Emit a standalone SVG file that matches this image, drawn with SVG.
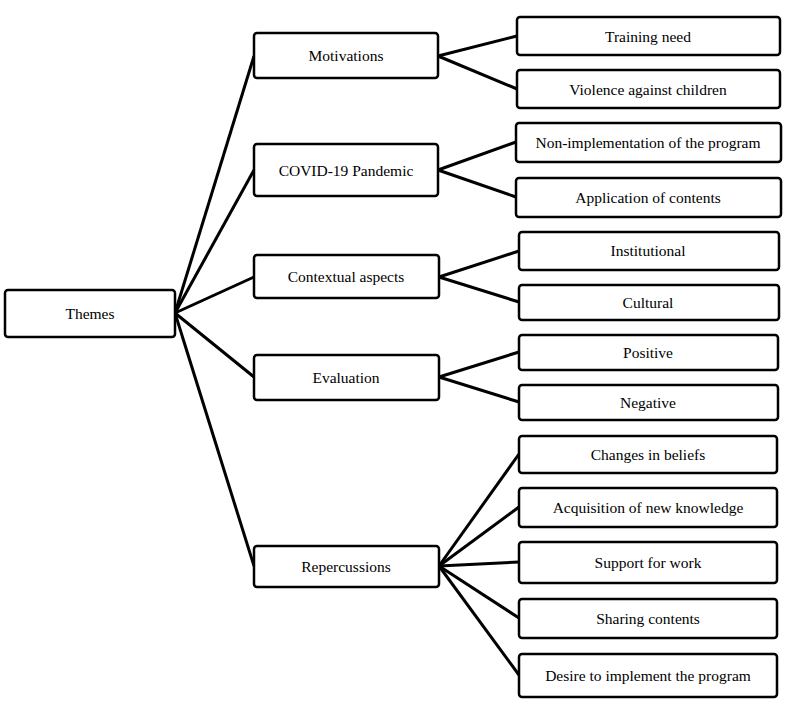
<svg xmlns="http://www.w3.org/2000/svg" width="788" height="710" viewBox="0 0 788 710">
<style>
rect{fill:#fff;stroke:#000;stroke-width:2.5}
text{font-family:"Liberation Serif",serif;font-size:15.5px;text-anchor:middle;dominant-baseline:central;fill:#000}
#connectors line{stroke:#000;stroke-width:3}
</style>
<rect x="0" y="0" width="788" height="710" style="stroke:none"/>
<g id="connectors">
<line x1="175" y1="313" x2="254" y2="56"/><line x1="175" y1="313" x2="254" y2="170"/><line x1="175" y1="313" x2="254" y2="277"/><line x1="175" y1="313" x2="254" y2="377"/><line x1="175" y1="313" x2="254" y2="566"/>
<line x1="438" y1="56" x2="517" y2="36"/><line x1="438" y1="56" x2="517" y2="89"/>
<line x1="438" y1="170" x2="516" y2="142"/><line x1="438" y1="170" x2="516" y2="197"/>
<line x1="439" y1="277" x2="519" y2="251"/><line x1="439" y1="277" x2="519" y2="302"/>
<line x1="439" y1="377" x2="519" y2="352"/><line x1="439" y1="377" x2="519" y2="402"/>
<line x1="439" y1="566" x2="519" y2="454"/><line x1="439" y1="566" x2="519" y2="507"/><line x1="439" y1="566" x2="519" y2="562"/><line x1="439" y1="566" x2="519" y2="618"/><line x1="439" y1="566" x2="519" y2="675"/>
</g>
<g id="themes"><rect x="5" y="290" width="170" height="47" rx="3"/><text x="90" y="313">Themes</text></g>
<g id="motivations"><rect x="254" y="33" width="184" height="45" rx="3"/><text x="346" y="55">Motivations</text></g>
<g id="covid"><rect x="254" y="144" width="184" height="52" rx="3"/><text x="346" y="170">COVID-19 Pandemic</text></g>
<g id="contextual"><rect x="254" y="255" width="185" height="43" rx="3"/><text x="346" y="276">Contextual aspects</text></g>
<g id="evaluation"><rect x="254" y="355" width="185" height="45" rx="3"/><text x="346" y="377">Evaluation</text></g>
<g id="repercussions"><rect x="254" y="546" width="185" height="41" rx="3"/><text x="346" y="566">Repercussions</text></g>
<g id="training"><rect x="517" y="17" width="263" height="38" rx="3"/><text x="648" y="36">Training need</text></g>
<g id="violence"><rect x="517" y="70" width="263" height="38" rx="3"/><text x="648" y="89">Violence against children</text></g>
<g id="nonimpl"><rect x="516" y="123" width="265" height="39" rx="3"/><text x="648" y="142">Non-implementation of the program</text></g>
<g id="application"><rect x="516" y="178" width="265" height="39" rx="3"/><text x="648" y="197">Application of contents</text></g>
<g id="institutional"><rect x="519" y="232" width="260" height="38" rx="3"/><text x="648" y="250">Institutional</text></g>
<g id="cultural"><rect x="519" y="285" width="260" height="35" rx="3"/><text x="648" y="302">Cultural</text></g>
<g id="positive"><rect x="519" y="335" width="259" height="35" rx="3"/><text x="648" y="352">Positive</text></g>
<g id="negative"><rect x="519" y="385" width="259" height="35" rx="3"/><text x="648" y="402">Negative</text></g>
<g id="changes"><rect x="519" y="436" width="258" height="37" rx="3"/><text x="648" y="454">Changes in beliefs</text></g>
<g id="acquisition"><rect x="519" y="488" width="258" height="39" rx="3"/><text x="648" y="507">Acquisition of new knowledge</text></g>
<g id="support"><rect x="519" y="542" width="258" height="41" rx="3"/><text x="648" y="562">Support for work</text></g>
<g id="sharing"><rect x="519" y="599" width="258" height="39" rx="3"/><text x="648" y="618">Sharing contents</text></g>
<g id="desire"><rect x="519" y="654" width="258" height="43" rx="3"/><text x="648" y="675">Desire to implement the program</text></g>
</svg>
